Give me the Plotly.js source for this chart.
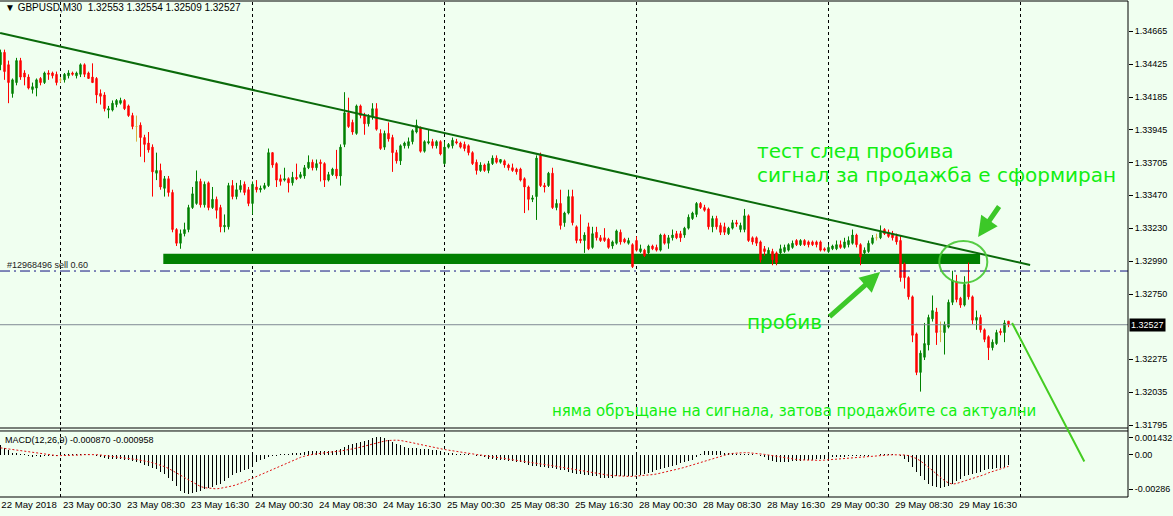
<!DOCTYPE html>
<html><head><meta charset="utf-8">
<script src="https://cdn.plot.ly/plotly-3.0.1.min.js"></script>
<style>html,body{margin:0;padding:0;background:#F0FFF0;}#chart{width:1173px;height:516px;}</style>
</head><body><div id="chart"></div>
<script>
// ---- price data (GBPUSD, M30) ----
const openP = [
1.3442,1.3451,1.3442,1.3421,1.3429,1.3445,1.3436,1.3433,1.3424,1.3425,
1.3432,1.3429,1.3436,1.3436,1.3435,1.3431,1.3431,1.3434,1.3436,1.3434,
1.3435,1.3442,1.3436,1.3433,1.3432,1.3421,1.3420,1.3409,1.3409,1.3413,
1.3414,1.3416,1.3412,1.3405,1.3397,1.3398,1.3389,1.3385,1.3382,1.3363,
1.3365,1.3352,1.3359,1.3349,1.3322,1.3312,1.3319,1.3322,1.3338,1.3341,
1.3357,1.3340,1.3356,1.3338,1.3344,1.3338,1.3324,1.3324,1.3354,1.3346,
1.3351,1.3355,1.3351,1.3341,1.3353,1.3351,1.3352,1.3354,1.3378,1.3370,
1.3359,1.3358,1.3359,1.3356,1.3360,1.3360,1.3361,1.3367,1.3371,1.3367,
1.3371,1.3370,1.3358,1.3362,1.3366,1.3361,1.3384,1.3407,1.3400,1.3392,
1.3412,1.3405,1.3399,1.3404,1.3410,1.3392,1.3382,1.3392,1.3389,1.3378,
1.3372,1.3383,1.3383,1.3386,1.3393,1.3396,1.3379,1.3385,1.3386,1.3383,
1.3386,1.3370,1.3382,1.3383,1.3386,1.3385,1.3384,1.3383,1.3378,1.3371,
1.3365,1.3369,1.3365,1.3370,1.3374,1.3371,1.3372,1.3369,1.3367,1.3366,
1.3366,1.3359,1.3353,1.3344,1.3346,1.3376,1.3354,1.3354,1.3363,1.3338,
1.3341,1.3327,1.3334,1.3346,1.3324,1.3315,1.3314,1.3324,1.3309,1.3320,
1.3316,1.3316,1.3315,1.3310,1.3312,1.3320,1.3315,1.3312,1.3311,1.3314,
1.3306,1.3307,1.3305,1.3310,1.3309,1.3307,1.3318,1.3312,1.3316,1.3319,
1.3319,1.3318,1.3323,1.3330,1.3333,1.3341,1.3338,1.3337,1.3324,1.3330,
1.3325,1.3324,1.3319,1.3323,1.3327,1.3322,1.3322,1.3332,1.3316,1.3316,
1.3313,1.3308,1.3302,1.3306,1.3305,1.3305,1.3306,1.3307,1.3309,1.3314,
1.3311,1.3314,1.3313,1.3313,1.3313,1.3313,1.3308,1.3306,1.3308,1.3308,
1.3311,1.3309,1.3311,1.3312,1.3318,1.3311,1.3305,1.3306,1.3312,1.3316,
1.3316,1.3322,1.3320,1.3319,1.3317,1.3314,1.3297,1.3287,1.3273,1.3246,
1.3218,1.3229,1.3238,1.3257,1.3262,1.3248,1.3247,1.3251,1.3269,1.3284,
1.3272,1.3267,1.3282,1.3273,1.3256,1.3258,1.3249,1.3244,1.3236,1.3239,
1.3248,1.3247,1.32553];
const highP = [
1.3453,1.3453,1.3445,1.3432,1.3447,1.3447,1.3438,1.3435,1.3429,1.3432,
1.3433,1.3437,1.3438,1.3437,1.3437,1.3433,1.3436,1.3438,1.3437,1.3437,
1.3443,1.3443,1.3437,1.3443,1.3433,1.3424,1.3422,1.3412,1.3416,1.3417,
1.3418,1.3417,1.3413,1.3407,1.3405,1.3400,1.3391,1.3393,1.3384,1.3378,
1.3370,1.3361,1.3361,1.3351,1.3323,1.3322,1.3327,1.3340,1.3353,1.3365,
1.3359,1.3357,1.3357,1.3353,1.3346,1.3340,1.3333,1.3356,1.3358,1.3356,
1.3358,1.3357,1.3353,1.3357,1.3358,1.3354,1.3356,1.3381,1.3378,1.3371,
1.3362,1.3367,1.3360,1.3364,1.3370,1.3364,1.3369,1.3376,1.3373,1.3373,
1.3373,1.3371,1.3364,1.3367,1.3380,1.3384,1.3422,1.3418,1.3402,1.3413,
1.3413,1.3407,1.3406,1.3414,1.3414,1.3395,1.3394,1.3400,1.3391,1.3380,
1.3384,1.3386,1.3389,1.3395,1.3402,1.3397,1.3387,1.3395,1.3388,1.3387,
1.3387,1.3386,1.3385,1.3389,1.3388,1.3386,1.3386,1.3384,1.3379,1.3373,
1.3371,1.3370,1.3372,1.3376,1.3376,1.3373,1.3373,1.3370,1.3370,1.3367,
1.3367,1.3360,1.3354,1.3347,1.3376,1.3378,1.3356,1.3364,1.3367,1.3344,
1.3351,1.3335,1.3351,1.3351,1.3325,1.3333,1.3320,1.3327,1.3324,1.3324,
1.3318,1.3323,1.3316,1.3314,1.3322,1.3322,1.3316,1.3316,1.3312,1.3317,
1.3311,1.3308,1.3311,1.3311,1.3311,1.3319,1.3319,1.3318,1.3322,1.3321,
1.3321,1.3324,1.3333,1.3335,1.3342,1.3342,1.3340,1.3338,1.3332,1.3332,
1.3327,1.3327,1.3324,1.3329,1.3329,1.3327,1.3337,1.3333,1.3317,1.3317,
1.3314,1.3310,1.3309,1.3308,1.3306,1.3311,1.3311,1.3312,1.3314,1.3315,
1.3315,1.3315,1.3314,1.3314,1.3314,1.3314,1.3309,1.3311,1.3311,1.3314,
1.3314,1.3316,1.3317,1.3322,1.3319,1.3312,1.3309,1.3314,1.3318,1.3319,
1.3325,1.3323,1.3322,1.3321,1.3319,1.3318,1.3298,1.3288,1.3274,1.3247,
1.3234,1.3254,1.3260,1.3274,1.3265,1.3255,1.3255,1.3271,1.3292,1.3289,
1.3273,1.3288,1.3298,1.3274,1.3263,1.3260,1.3250,1.3245,1.3242,1.3249,
1.3250,1.3256,1.32554];
const lowP = [
1.3438,1.3431,1.3414,1.3418,1.3427,1.3431,1.3427,1.3424,1.3421,1.3419,
1.3427,1.3428,1.3431,1.3432,1.3427,1.3429,1.3429,1.3432,1.3434,1.3432,
1.3433,1.3433,1.3432,1.3429,1.3414,1.3413,1.3408,1.3403,1.3408,1.3411,
1.3413,1.3409,1.3404,1.3395,1.3386,1.3375,1.3371,1.3378,1.3346,1.3358,
1.3351,1.3346,1.3346,1.3320,1.3310,1.3308,1.3317,1.3320,1.3337,1.3340,
1.3338,1.3338,1.3336,1.3337,1.3330,1.3320,1.3320,1.3322,1.3344,1.3344,
1.3349,1.3347,1.3339,1.3333,1.3349,1.3349,1.3351,1.3353,1.3367,1.3353,
1.3354,1.3357,1.3349,1.3354,1.3358,1.3359,1.3359,1.3366,1.3365,1.3365,
1.3357,1.3353,1.3357,1.3361,1.3359,1.3354,1.3382,1.3396,1.3391,1.3391,
1.3403,1.3391,1.3397,1.3402,1.3394,1.3380,1.3380,1.3386,1.3364,1.3370,
1.3369,1.3381,1.3381,1.3384,1.3392,1.3378,1.3378,1.3384,1.3381,1.3381,
1.3376,1.3369,1.3381,1.3381,1.3384,1.3381,1.3379,1.3376,1.3369,1.3362,
1.3364,1.3364,1.3363,1.3369,1.3370,1.3370,1.3367,1.3365,1.3364,1.3362,
1.3357,1.3334,1.3336,1.3342,1.3329,1.3353,1.3349,1.3353,1.3337,1.3336,
1.3322,1.3324,1.3333,1.3325,1.3312,1.3312,1.3305,1.3307,1.3308,1.3314,
1.3313,1.3313,1.3308,1.3308,1.3311,1.3311,1.3312,1.3311,1.3294,1.3306,
1.3305,1.3302,1.3303,1.3307,1.3306,1.3306,1.3311,1.3308,1.3314,1.3315,
1.3313,1.3316,1.3322,1.3329,1.3331,1.3337,1.3335,1.3322,1.3320,1.3322,
1.3318,1.3318,1.3318,1.3322,1.3324,1.3320,1.3320,1.3313,1.3311,1.3310,
1.3298,1.3303,1.3300,1.3296,1.3296,1.3303,1.3305,1.3306,1.3308,1.3310,
1.3310,1.3310,1.3309,1.3310,1.3309,1.3306,1.3306,1.3305,1.3307,1.3307,
1.3308,1.3308,1.3309,1.3311,1.3309,1.3296,1.3303,1.3305,1.3311,1.3314,
1.3315,1.3318,1.3316,1.3314,1.3311,1.3284,1.3279,1.3271,1.3240,1.3216,
1.3204,1.3227,1.3234,1.3255,1.3238,1.3240,1.3231,1.3250,1.3267,1.3269,
1.3265,1.3266,1.3271,1.3253,1.3249,1.3247,1.3240,1.3227,1.3234,1.3238,
1.3245,1.3240,1.32509];
const closeP = [
1.3451,1.3437,1.3429,1.3431,1.3445,1.3433,1.3433,1.3425,1.3426,1.3431,
1.3429,1.3436,1.3435,1.3434,1.3429,1.3431,1.3435,1.3436,1.3435,1.3436,
1.3442,1.3435,1.3432,1.3429,1.3420,1.3419,1.3410,1.3410,1.3414,1.3416,
1.3416,1.3410,1.3405,1.3397,1.3397,1.3389,1.3384,1.3380,1.3364,1.3365,
1.3353,1.3359,1.3349,1.3322,1.3312,1.3319,1.3322,1.3338,1.3348,1.3357,
1.3340,1.3355,1.3338,1.3344,1.3336,1.3324,1.3325,1.3354,1.3346,1.3351,
1.3354,1.3349,1.3341,1.3355,1.3351,1.3352,1.3354,1.3378,1.3369,1.3358,
1.3357,1.3359,1.3356,1.3360,1.3359,1.3362,1.3367,1.3371,1.3367,1.3370,
1.3370,1.3358,1.3362,1.3366,1.3361,1.3382,1.3407,1.3397,1.3393,1.3412,
1.3405,1.3399,1.3404,1.3410,1.3395,1.3381,1.3392,1.3388,1.3378,1.3372,
1.3383,1.3385,1.3386,1.3394,1.3398,1.3379,1.3386,1.3386,1.3383,1.3386,
1.3377,1.3382,1.3384,1.3387,1.3385,1.3382,1.3381,1.3378,1.3370,1.3365,
1.3369,1.3365,1.3370,1.3374,1.3371,1.3373,1.3369,1.3367,1.3365,1.3364,
1.3358,1.3353,1.3344,1.3345,1.3374,1.3354,1.3353,1.3363,1.3338,1.3341,
1.3325,1.3334,1.3346,1.3327,1.3314,1.3314,1.3318,1.3308,1.3319,1.3316,
1.3314,1.3314,1.3309,1.3313,1.3321,1.3313,1.3313,1.3314,1.3295,1.3307,
1.3308,1.3303,1.3310,1.3308,1.3307,1.3318,1.3312,1.3316,1.3318,1.3316,
1.3316,1.3323,1.3331,1.3334,1.3341,1.3338,1.3336,1.3324,1.3330,1.3324,
1.3320,1.3320,1.3323,1.3327,1.3326,1.3325,1.3332,1.3314,1.3313,1.3312,
1.3300,1.3306,1.3307,1.3300,1.3298,1.3308,1.3309,1.3311,1.3312,1.3311,
1.3314,1.3311,1.3311,1.3311,1.3311,1.3307,1.3307,1.3309,1.3310,1.3311,
1.3309,1.3313,1.3314,1.3318,1.3311,1.3302,1.3307,1.3312,1.3316,1.3316,
1.3320,1.3319,1.3317,1.3316,1.3313,1.3287,1.3287,1.3273,1.3245,1.3218,
1.3232,1.3239,1.3258,1.3263,1.3247,1.3248,1.3253,1.3269,1.3285,1.3271,
1.3267,1.3282,1.3273,1.3256,1.3258,1.3249,1.3242,1.3236,1.3240,1.3247,
1.3247,1.3254,1.32527];

// ---- MACD(12,26,9) ----
const macdMain = [
0.0008,0.0006,0.0004,0.0002,0.00015,0.0001,
0.00005,-0.0001,-0.00015,-0.0001,-0.00015,-0.0001,-0.0001,-0.00005,-0.0001,
0.00005,0.00005,0.0001,0.00005,0.00005,0.0001,0.0001,0.00005,0,
-0.0001,-0.0002,-0.00025,-0.0003,-0.0003,-0.0003,-0.0003,-0.0004,-0.00045,
-0.0005,-0.0006,-0.0007,-0.0008,-0.0009,-0.0011,-0.0012,-0.0014,
-0.0016,-0.0019,-0.0022,-0.0026,-0.003,-0.0032,-0.0033,-0.0032,-0.0031,-0.003,
-0.0029,-0.0028,-0.0027,-0.0025,-0.0024,-0.0022,-0.0019,-0.0017,-0.0015,-0.0014,-0.0013,-0.0012,
-0.001,-0.0006,-0.0004,-0.0003,
-0.0002,-0.0001,-0.00005,0.00005,0.0001,0.0001,0.00015,
0.0002,0.0002,0.00025,0.0003,0.0003,0.0003,0.0003,0.0003,0.0003,0.00035,0.0004,
0.0005,0.0007,0.0008,0.0009,0.001,0.0011,0.0012,0.0013,
0.0014,0.0015,0.0015,0.0014,0.0013,0.0011,0.0009,
0.0008,0.0007,0.0006,0.0006,0.0006,0.0005,0.0005,0.0005,0.0004,0.0004,0.0003,0.0002,
0.0002,0.00015,0.0001,0.0001,0.00005,0.00005,0,-0.00005,-0.0001,
-0.0002,-0.0003,-0.0003,-0.0004,-0.0004,-0.0004,-0.0005,-0.0005,-0.0006,-0.0006,-0.0007,-0.0008,-0.0009,-0.0009,
-0.001,-0.001,-0.0011,-0.0011,-0.0012,-0.0013,-0.0013,-0.0014,-0.0015,-0.0016,-0.0016,-0.0017,-0.0017,-0.0018,-0.0018,-0.0019,
-0.0019,-0.0019,-0.0019,-0.0018,-0.0018,-0.0018,-0.0018,-0.0018,-0.0017,
-0.0017,-0.0016,-0.0015,-0.0014,-0.0013,-0.0012,-0.0011,-0.001,-0.0009,-0.0008,-0.0007,-0.0006,-0.0005,-0.0004,-0.0002,
0.0001,0.0003,0.0003,0.0003,0.0003,0.0003,0.0002,0.0002,0.0002,0.0001,0.0001,0.0001,0.00005,0.00005,0,-0.0001,-0.0002,
-0.0004,-0.0005,-0.0006,-0.0006,-0.0006,-0.0006,-0.0005,-0.0005,-0.0005,-0.0004,-0.0004,-0.0004,-0.0003,-0.0003,-0.0003,
-0.0003,-0.0002,-0.0002,-0.0002,-0.0002,-0.0001,-0.0001,-0.0001,-0.00005,-0.00005,-0.00005,0,0,0.00005,0.00005,0.0001,0.00005,0,-0.0001,-0.0003,-0.0006,
-0.001,-0.0014,-0.0018,-0.0021,-0.0024,-0.0026,-0.0027,-0.0028,-0.0027,-0.0026,-0.0024,
-0.0022,-0.002,-0.0018,-0.0017,-0.0016,-0.0015,-0.0014,-0.0013,-0.0012,-0.0012,-0.0011,-0.0011,-0.001,-0.00087];
const macdSignal = [
0.0006,0.00055,0.0005,0.00045,0.0004,0.00035,0.0003,0.00025,0.0002,0.00015,0.0001,0.00005,0,-0.00005,-0.00005,
-0.00005,-0.00005,-0.00005,-0.00003,0,0,0.00003,0.00005,0.00005,0.00003,0,-0.00005,-0.0001,-0.00015,-0.0002,-0.00023,
-0.00026,-0.0003,-0.00034,-0.00038,-0.00043,-0.0005,-0.00057,-0.00065,-0.00074,-0.00085,-0.00098,-0.00113,-0.0013,-0.0015,-0.0017,
-0.0019,-0.0021,-0.0023,-0.0025,-0.00265,-0.00275,-0.0028,-0.00285,-0.00285,-0.0028,-0.00275,-0.0027,-0.0026,-0.0025,-0.0024,
-0.00225,-0.0021,-0.00195,-0.0018,-0.00165,-0.0015,-0.00135,-0.0012,-0.00105,-0.0009,-0.00075,-0.0006,-0.00045,-0.0003,-0.0002,
-0.0001,0,0.00005,0.0001,0.00015,0.0002,0.00023,0.00026,0.0003,0.00033,0.00038,0.00044,0.0005,0.00058,0.00066,
0.00075,0.00084,0.00093,0.00102,0.0011,0.00117,0.00122,0.00125,0.00125,0.00122,0.00117,0.0011,0.00103,0.00095,0.00087,
0.0008,0.00073,0.00066,0.0006,0.00053,0.00046,0.0004,0.00034,0.00028,0.00022,0.00017,0.00012,0.00008,0.00004,0,
-0.00005,-0.0001,-0.00015,-0.0002,-0.00024,-0.00028,-0.00032,-0.00036,-0.0004,-0.00045,-0.0005,-0.00055,-0.0006,-0.00065,-0.00072,
-0.00078,-0.00084,-0.0009,-0.00096,-0.00102,-0.00108,-0.00114,-0.0012,-0.00126,-0.00132,-0.00138,-0.00144,-0.0015,-0.00155,-0.0016,
-0.00165,-0.0017,-0.00173,-0.00176,-0.00178,-0.0018,-0.0018,-0.0018,-0.00178,-0.00176,-0.00173,-0.0017,-0.00165,-0.0016,-0.00153,
-0.00146,-0.00138,-0.0013,-0.00122,-0.00113,-0.00104,-0.00094,-0.00084,-0.00074,-0.00063,-0.00052,-0.0004,-0.0003,-0.0002,-0.0001,
0,0.00008,0.00013,0.00017,0.00019,0.0002,0.00019,0.00017,0.00014,0.0001,0.00005,0,-0.00006,-0.00012,-0.00018,
-0.00024,-0.0003,-0.00034,-0.00038,-0.00041,-0.00043,-0.00045,-0.00046,-0.00046,-0.00045,-0.00043,-0.0004,-0.00037,-0.00034,-0.00031,
-0.00028,-0.00025,-0.00022,-0.00019,-0.00016,-0.00013,-0.0001,-0.00008,-0.00006,-0.00004,-0.00002,0,0.00002,0.00003,0.00003,
0,-0.00005,-0.00015,-0.0003,-0.0005,-0.00075,-0.001,-0.0013,-0.0016,-0.0019,-0.00215,-0.00235,-0.00245,-0.0024,-0.0023,
-0.0022,-0.0021,-0.002,-0.0019,-0.0018,-0.00165,-0.0015,-0.0014,-0.0013,-0.0012,-0.0011,-0.000958];

// ---- axis labels ----
const timeLabels = ["22 May 2018","23 May 00:30","23 May 08:30","23 May 16:30","24 May 00:30","24 May 08:30","24 May 16:30","25 May 00:30","25 May 08:30","25 May 16:30","28 May 00:30","28 May 08:30","28 May 16:30","29 May 00:30","29 May 08:30","29 May 16:30"];
const priceTicks = [1.34665,1.34425,1.34185,1.33945,1.33705,1.33470,1.33230,1.32990,1.32750,1.32275,1.32035,1.31795];
const macdTicks = [0.001432, 0, -0.00286];
const macdTickText = ["0.001432","0.00","-0.00286"];

// ---- drawn objects (analyst's markup) ----
const trendX = [-0.1, 257.4];
const trendY = [1.34651, 1.32962];
const supportLevel = {x0: 40.7, x1: 244.9, y0: 1.32969, y1: 1.33043};
const sellOrderPrice = 1.32918;
const lastPrice = 1.32527;
const daySeparators = [15, 63, 111, 159, 207, 255];

// ---- build ----
const idx = closeP.map((_, i) => i);
const isDoji = idx.map(i => openP[i] === closeP[i]);
const pick = (arr, want) => idx.filter(i => isDoji[i] === want).map(i => arr[i]);

const cFont = 'Liberation Sans, Arial, sans-serif';
const green = '#11ee11';
const arrowGreen = '#3cc828';

const traces = [
  {type:'candlestick', x: pick(idx,false), open: pick(openP,false), high: pick(highP,false), low: pick(lowP,false), close: pick(closeP,false),
   increasing:{line:{color:'#008000', width:1}, fillcolor:'#008000'},
   decreasing:{line:{color:'#ff0000', width:1}, fillcolor:'#ff0000'},
   hoverinfo:'skip', xaxis:'x', yaxis:'y'},
  {type:'candlestick', x: pick(idx,true), open: pick(openP,true), high: pick(highP,true), low: pick(lowP,true), close: pick(closeP,true),
   increasing:{line:{color:'#d8b040', width:1}, fillcolor:'#d8b040'},
   decreasing:{line:{color:'#d8b040', width:1}, fillcolor:'#d8b040'},
   hoverinfo:'skip', xaxis:'x', yaxis:'y'},
  {type:'scatter', mode:'lines', x: trendX, y: trendY, line:{color:'#0a6a0a', width:2}, hoverinfo:'skip', xaxis:'x', yaxis:'y'},
  {type:'bar', x: idx, y: macdMain, width: 0.3, marker:{color:'#000000', line:{width:0}}, hoverinfo:'skip', xaxis:'x', yaxis:'y2'},
  {type:'scatter', mode:'lines', x: idx, y: macdSignal, line:{color:'#e01010', width:1, dash:'2px,2px'}, hoverinfo:'skip', xaxis:'x', yaxis:'y2'}
];

const tickX = [0.2].concat(timeLabels.slice(1).map((_, k) => 15.6 + 16 * k));

const mainBottom = 0.1391, macdTop = 0.1331;
const shapes = [
  {type:'rect', xref:'x', yref:'y', x0: supportLevel.x0, x1: supportLevel.x1, y0: supportLevel.y0, y1: supportLevel.y1, fillcolor:'#008000', line:{width:0}, layer:'below'}
];
daySeparators.forEach(b => shapes.push({type:'line', xref:'x', yref:'paper', x0:b, x1:b, y0:0, y1:1, line:{color:'#000', width:1, dash:'3px,3px'}, layer:'below'}));
shapes.push(
  {type:'line', xref:'paper', yref:'y', x0:0, x1:1, y0:sellOrderPrice, y1:sellOrderPrice, line:{color:'#101080', width:1, dash:'10px,4px,2px,4px'}},
  {type:'line', xref:'paper', yref:'y', x0:0, x1:1, y0:lastPrice, y1:lastPrice, line:{color:'#7f8a94', width:1}},
  {type:'circle', xref:'x', yref:'y', x0:234.7, x1:246.7, y0:1.32831, y1:1.33137, line:{color:'rgba(70,200,50,0.9)', width:2}},
  {type:'line', xref:'paper', yref:'paper', x0:0, x1:1, y0:1, y1:1, line:{color:'#000', width:1}},
  {type:'line', xref:'paper', yref:'paper', x0:0, x1:1, y0:mainBottom, y1:mainBottom, line:{color:'#000', width:1}},
  {type:'line', xref:'paper', yref:'paper', x0:0, x1:1, y0:macdTop, y1:macdTop, line:{color:'#000', width:1}},
  {type:'line', xref:'paper', yref:'paper', x0:0, x1:1, y0:0, y1:0, line:{color:'#000', width:1}},
  {type:'line', xref:'paper', yref:'paper', x0:1, x1:1, y0:0, y1:1, line:{color:'#000', width:1}}
);

const bigFont = {family:'DejaVu Sans, Verdana, sans-serif', size:20, color:green};
const annotations = [
  {xref:'paper', yref:'paper', x:0.003, y:0.986, xanchor:'left', yanchor:'middle', showarrow:false,
   text:'▼ GBPUSD,M30  1.32553 1.32554 1.32509 1.32527', font:{family:cFont, size:10, color:'#000'}},
  {xref:'paper', yref:'paper', x:0.003, y:0.1149, xanchor:'left', yanchor:'middle', showarrow:false,
   text:'MACD(12,26,9) -0.000870 -0.000958', font:{family:cFont, size:9, color:'#000'}},
  {xref:'paper', yref:'y', x:0.004, y:1.32962, xanchor:'left', yanchor:'middle', showarrow:false,
   text:'#12968496 sell 0.60', font:{family:cFont, size:9, color:'#222'}},
  {xref:'paper', yref:'y', x:1, xshift:1, y:lastPrice, xanchor:'left', yanchor:'middle', showarrow:false,
   text:'1.32527', bgcolor:'#000', borderpad:1, font:{family:cFont, size:9, color:'#fff'}},
  {xref:'x', yref:'y', x:188.7, y:1.33792, xanchor:'left', yanchor:'middle', showarrow:false, text:'тест след пробива', font:bigFont},
  {xref:'x', yref:'y', x:188.7, y:1.33617, xanchor:'left', yanchor:'middle', showarrow:false, text:'сигнал за продажба е сформиран', font:bigFont},
  {xref:'x', yref:'y', x:186.2, y:1.32547, xanchor:'left', yanchor:'middle', showarrow:false, text:'пробив', font:bigFont},
  {xref:'x', yref:'y', x:137.4, y:1.31899, xanchor:'left', yanchor:'middle', showarrow:false,
   text:'няма обръщане на сигнала, затова продажбите са актуални', font:{family:'DejaVu Sans, Verdana, sans-serif', size:15, color:green}},
  {xref:'x', yref:'y', x:219.9, y:1.32911, ax:-52, ay:46, showarrow:true, text:'', arrowhead:2, arrowsize:0.8, arrowwidth:5, arrowcolor:arrowGreen, standoff:0},
  {xref:'x', yref:'y', x:244.4, y:1.33166, ax:22, ay:-32, showarrow:true, text:'', arrowhead:2, arrowsize:0.8, arrowwidth:5, arrowcolor:arrowGreen, standoff:0},
  {xref:'x', yref:'y', x:252.9, y:1.32540, ax:73, ay:140, showarrow:true, text:'', arrowhead:0, arrowwidth:2, arrowcolor:'#44cc22', standoff:0}
];

const xFont = {family:cFont, size:9.6, color:'#000'};
const yFont = {family:cFont, size:9, color:'#000'};
const layout = {
  width:1173, height:516,
  margin:{l:0, r:45, t:1, b:19, pad:0},
  paper_bgcolor:'#F0FFF0', plot_bgcolor:'#F0FFF0',
  showlegend:false, boxgap:0.5, bargap:0,
  xaxis:{range:[-0.125, 281.875], anchor:'y2', showgrid:false, zeroline:false, showline:false,
         tickmode:'array', tickvals:tickX, ticktext:timeLabels, ticks:'', ticklabelposition:'outside right',
         tickangle:0, tickfont:xFont, rangeslider:{visible:false}, fixedrange:true},
  yaxis:{domain:[mainBottom, 1], range:[1.31775, 1.34884], side:'right', anchor:'x',
         tickmode:'array', tickvals:priceTicks, ticktext:priceTicks.map(v => v.toFixed(5)),
         ticks:'outside', ticklen:4, tickcolor:'#000', showgrid:false, zeroline:false, showline:false,
         tickfont:yFont, fixedrange:true},
  yaxis2:{domain:[0, macdTop], range:[-0.003533, 0.002019], side:'right', anchor:'x',
         tickmode:'array', tickvals:macdTicks, ticktext:macdTickText,
         ticks:'outside', ticklen:4, tickcolor:'#000', showgrid:false, zeroline:false, showline:false,
         tickfont:yFont, fixedrange:true},
  shapes:shapes, annotations:annotations
};

Plotly.newPlot('chart', traces, layout, {displayModeBar:false, staticPlot:true});
</script>
</body></html>
